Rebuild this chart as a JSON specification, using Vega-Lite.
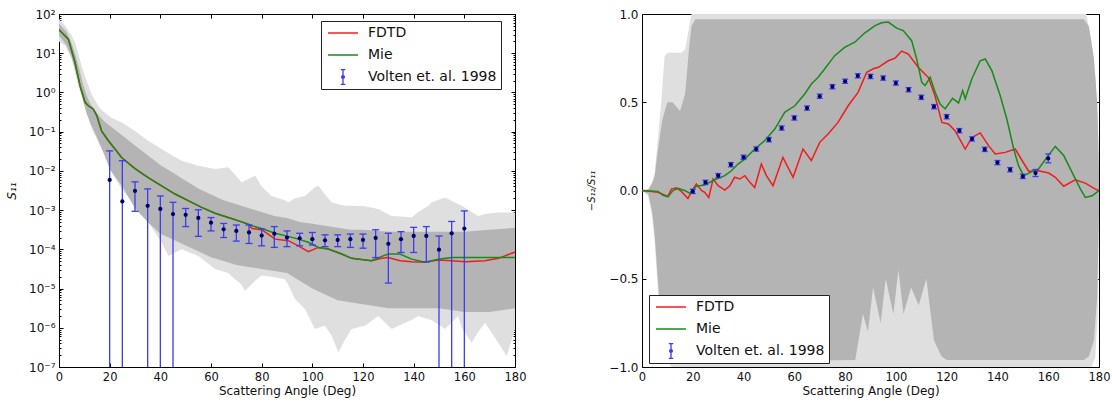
{
"$schema": "https://vega.github.io/schema/vega-lite/v6.json",
"background": "white",
"padding": {"left": 5, "top": 7, "right": 3, "bottom": 5},
"config": {
  "view": {"stroke": "#000", "strokeWidth": 1},
  "font": "DejaVu Sans",
  "axis": {"domain": false, "grid": false, "tickColor": "#000", "tickWidth": 1, "labelFont": "DejaVu Sans", "labelFontSize": 11.5, "labelColor": "#111", "titleFont": "DejaVu Sans", "titleFontSize": 12, "titleFontWeight": "normal", "titleColor": "#111"},
  "legend": {"labelFont": "DejaVu Sans", "labelFontSize": 14, "labelColor": "#111", "strokeColor": "#222", "fillColor": "#fff", "padding": 4, "cornerRadius": 0, "symbolSize": 900, "symbolStrokeWidth": 1.3, "clipHeight": 16, "rowPadding": 6, "labelOffset": 9, "symbolOffset": 2, "labelLimit": 0}
},
"datasets": {
  "l_env": [
    {"deg":0,"hi":74.1,"lo":19.95},{"deg":2.4,"hi":50.1,"lo":15.85},{"deg":5,"hi":28.2,"lo":7.08},{"deg":6.3,"hi":19.05,"lo":3.16},{"deg":7.6,"hi":10,"lo":1.479},{"deg":8.9,"hi":4.79,"lo":0.794},{"deg":10.3,"hi":2.51,"lo":0.38},{"deg":11.6,"hi":1.479,"lo":0.224},{"deg":12.9,"hi":0.891,"lo":0.1175},{"deg":15.5,"hi":0.457,"lo":0.0562},{"deg":16.8,"hi":0.355,"lo":0.0363},{"deg":19.5,"hi":0.257,"lo":0.01585},{"deg":20.8,"hi":0.224,"lo":0.00912},{"deg":24.7,"hi":0.174,"lo":0.00347},{"deg":30,"hi":0.1047,"lo":0.001288},{"deg":35.2,"hi":0.0589,"lo":0.00049},{"deg":40.5,"hi":0.0363,"lo":0.0001514},{"deg":43.2,"hi":0.0282,"lo":6.76e-5},{"deg":48.4,"hi":0.0182,"lo":1e-4},{"deg":55,"hi":0.01349,"lo":6.76e-5},{"deg":61.6,"hi":0.01122,"lo":3.16e-5},{"deg":66.8,"hi":0.0123,"lo":2.51e-5},{"deg":69.5,"hi":0.00794,"lo":1.738e-5},{"deg":72.1,"hi":0.00513,"lo":1.259e-5},{"deg":73.4,"hi":0.00562,"lo":8.71e-6},{"deg":77.4,"hi":0.00759,"lo":1.585e-5},{"deg":80,"hi":0.00398,"lo":2.14e-5},{"deg":83.9,"hi":0.00229,"lo":2e-5},{"deg":89.2,"hi":0.001778,"lo":1.738e-5},{"deg":90.5,"hi":0.001585,"lo":1.259e-5},{"deg":93.2,"hi":0.002,"lo":5.37e-6},{"deg":97.1,"hi":0.00229,"lo":3.02e-6},{"deg":101,"hi":0.0038,"lo":9.33e-7},{"deg":102.4,"hi":0.00417,"lo":1e-6},{"deg":105,"hi":0.00251,"lo":1.122e-6},{"deg":107.6,"hi":0.001585,"lo":6.31e-7},{"deg":110.3,"hi":0.001413,"lo":2.34e-7},{"deg":112.9,"hi":0.001288,"lo":5.01e-7},{"deg":115.5,"hi":0.001288,"lo":9.33e-7},{"deg":120.8,"hi":0.001259,"lo":1.122e-6},{"deg":126,"hi":0.001072,"lo":2e-6},{"deg":131.3,"hi":0.000708,"lo":9.33e-7},{"deg":136.6,"hi":0.000676,"lo":1.349e-6},{"deg":139.2,"hi":0.000646,"lo":1.585e-6},{"deg":141.8,"hi":0.000891,"lo":2e-6},{"deg":145.8,"hi":0.001288,"lo":1.66e-6},{"deg":147.1,"hi":0.001585,"lo":1.585e-6},{"deg":152.4,"hi":0.00209,"lo":9.33e-7},{"deg":157.6,"hi":0.001413,"lo":2e-6},{"deg":159,"hi":0.001288,"lo":1e-6},{"deg":162.9,"hi":0.000891,"lo":4.17e-7},{"deg":165.5,"hi":0.000708,"lo":7.94e-7},{"deg":168.2,"hi":0.000794,"lo":1.349e-6},{"deg":173.4,"hi":0.000871,"lo":4.17e-7},{"deg":176.7,"hi":0.000871,"lo":1.905e-7},{"deg":180,"hi":0.000871,"lo":9.33e-7}
  ],
  "l_core": [
    {"deg":0,"hi":56.2,"lo":28.2},{"deg":3,"hi":35.5,"lo":15.85},{"deg":5,"hi":17.8,"lo":7.94},{"deg":6.5,"hi":8.91,"lo":3.55},{"deg":8,"hi":3.98,"lo":1.585},{"deg":9.5,"hi":1.585,"lo":0.631},{"deg":11,"hi":0.794,"lo":0.282},{"deg":12.5,"hi":0.501,"lo":0.1585},{"deg":14,"hi":0.355,"lo":0.1},{"deg":16,"hi":0.251,"lo":0.0501},{"deg":18,"hi":0.178,"lo":0.0251},{"deg":20,"hi":0.141,"lo":0.01122},{"deg":25,"hi":0.0794,"lo":0.00398},{"deg":30,"hi":0.0447,"lo":0.001122},{"deg":35,"hi":0.0251,"lo":0.000501},{"deg":40,"hi":0.01413,"lo":0.000251},{"deg":45,"hi":0.00891,"lo":0.0001778},{"deg":50,"hi":0.00562,"lo":0.0001259},{"deg":55,"hi":0.00355,"lo":8.91e-5},{"deg":60,"hi":0.00251,"lo":6.31e-5},{"deg":65,"hi":0.001778,"lo":5.01e-5},{"deg":70,"hi":0.001413,"lo":3.98e-5},{"deg":75,"hi":0.001122,"lo":3.55e-5},{"deg":80,"hi":0.000891,"lo":3.16e-5},{"deg":85,"hi":0.000708,"lo":2.82e-5},{"deg":90,"hi":0.000631,"lo":2.51e-5},{"deg":95,"hi":0.000501,"lo":1.585e-5},{"deg":100,"hi":0.000447,"lo":1e-5},{"deg":105,"hi":0.000398,"lo":7.08e-6},{"deg":110,"hi":0.000355,"lo":5.01e-6},{"deg":115,"hi":0.000316,"lo":4.47e-6},{"deg":120,"hi":0.000316,"lo":3.98e-6},{"deg":130,"hi":0.000282,"lo":3.16e-6},{"deg":140,"hi":0.000282,"lo":3.16e-6},{"deg":150,"hi":0.000282,"lo":3.16e-6},{"deg":160,"hi":0.000282,"lo":2.51e-6},{"deg":170,"hi":0.000316,"lo":2.51e-6},{"deg":180,"hi":0.000355,"lo":3.16e-6}
  ],
  "l_lines": [
    {"deg":0,"series":"FDTD","v":39.8},{"deg":3.7,"series":"FDTD","v":22.9},{"deg":6.3,"series":"FDTD","v":5.89},{"deg":8.3,"series":"FDTD","v":1.479},{"deg":10.3,"series":"FDTD","v":0.562},{"deg":11.6,"series":"FDTD","v":0.457},{"deg":13.5,"series":"FDTD","v":0.38},{"deg":14.9,"series":"FDTD","v":0.257},{"deg":16.8,"series":"FDTD","v":0.105},{"deg":19.5,"series":"FDTD","v":0.0589},{"deg":22.1,"series":"FDTD","v":0.0363},{"deg":24.7,"series":"FDTD","v":0.0219},{"deg":30,"series":"FDTD","v":0.01148},{"deg":35.2,"series":"FDTD","v":0.00676},{"deg":40.5,"series":"FDTD","v":0.00417},{"deg":45.8,"series":"FDTD","v":0.00257},{"deg":51,"series":"FDTD","v":0.001738},{"deg":56.3,"series":"FDTD","v":0.001175},{"deg":61.6,"series":"FDTD","v":0.000832},{"deg":66.8,"series":"FDTD","v":0.000646},{"deg":72.1,"series":"FDTD","v":0.000501},{"deg":74.7,"series":"FDTD","v":0.000437},{"deg":76.2,"series":"FDTD","v":0.000339},{"deg":80,"series":"FDTD","v":0.000316},{"deg":85.3,"series":"FDTD","v":0.000182},{"deg":90.5,"series":"FDTD","v":0.000166},{"deg":94.5,"series":"FDTD","v":0.000123},{"deg":98.4,"series":"FDTD","v":8.71e-5},{"deg":102.4,"series":"FDTD","v":0.000112},{"deg":106.3,"series":"FDTD","v":0.000102},{"deg":111.6,"series":"FDTD","v":7.59e-5},{"deg":115.5,"series":"FDTD","v":5.89e-5},{"deg":123.4,"series":"FDTD","v":5.13e-5},{"deg":127.4,"series":"FDTD","v":5.89e-5},{"deg":130,"series":"FDTD","v":6.17e-5},{"deg":134.6,"series":"FDTD","v":5.13e-5},{"deg":139.2,"series":"FDTD","v":4.79e-5},{"deg":144.5,"series":"FDTD","v":4.68e-5},{"deg":149.7,"series":"FDTD","v":5.37e-5},{"deg":155,"series":"FDTD","v":5.13e-5},{"deg":160.3,"series":"FDTD","v":4.79e-5},{"deg":168.2,"series":"FDTD","v":5.13e-5},{"deg":173.5,"series":"FDTD","v":5.89e-5},{"deg":178.7,"series":"FDTD","v":7.94e-5},{"deg":180,"series":"FDTD","v":8.51e-5},
    {"deg":0,"series":"Mie","v":39.8},{"deg":3.7,"series":"Mie","v":22.9},{"deg":6.3,"series":"Mie","v":5.89},{"deg":8.3,"series":"Mie","v":1.479},{"deg":10.3,"series":"Mie","v":0.562},{"deg":11.6,"series":"Mie","v":0.457},{"deg":13.5,"series":"Mie","v":0.38},{"deg":14.9,"series":"Mie","v":0.257},{"deg":16.8,"series":"Mie","v":0.105},{"deg":19.5,"series":"Mie","v":0.0589},{"deg":22.1,"series":"Mie","v":0.0363},{"deg":24.7,"series":"Mie","v":0.0219},{"deg":30,"series":"Mie","v":0.01148},{"deg":35.2,"series":"Mie","v":0.00676},{"deg":40.5,"series":"Mie","v":0.00417},{"deg":45.8,"series":"Mie","v":0.00257},{"deg":51,"series":"Mie","v":0.001738},{"deg":56.3,"series":"Mie","v":0.001175},{"deg":61.6,"series":"Mie","v":0.000832},{"deg":66.8,"series":"Mie","v":0.000646},{"deg":72.1,"series":"Mie","v":0.000501},{"deg":74.7,"series":"Mie","v":0.000437},{"deg":76.2,"series":"Mie","v":0.000398},{"deg":80,"series":"Mie","v":0.000339},{"deg":85.3,"series":"Mie","v":0.000257},{"deg":90.5,"series":"Mie","v":0.000214},{"deg":94.5,"series":"Mie","v":0.000182},{"deg":98.4,"series":"Mie","v":0.000151},{"deg":102.4,"series":"Mie","v":0.000112},{"deg":106.3,"series":"Mie","v":0.000102},{"deg":111.6,"series":"Mie","v":7.59e-5},{"deg":115.5,"series":"Mie","v":5.89e-5},{"deg":123.4,"series":"Mie","v":5.13e-5},{"deg":127.4,"series":"Mie","v":6.61e-5},{"deg":130,"series":"Mie","v":7.59e-5},{"deg":134.6,"series":"Mie","v":7.59e-5},{"deg":139.2,"series":"Mie","v":5.62e-5},{"deg":144.5,"series":"Mie","v":4.68e-5},{"deg":149.7,"series":"Mie","v":5.62e-5},{"deg":155,"series":"Mie","v":6.17e-5},{"deg":160.3,"series":"Mie","v":6.17e-5},{"deg":168.2,"series":"Mie","v":6.17e-5},{"deg":173.5,"series":"Mie","v":6.17e-5},{"deg":180,"series":"Mie","v":6.17e-5}
  ],
  "l_obs": [
    {"deg":20,"v":0.00589,"hi":0.0324,"lo":1e-7},{"deg":25,"v":0.00166,"hi":0.0182,"lo":1e-7},{"deg":30,"v":0.00309,"hi":0.00525,"lo":0.000933},{"deg":35,"v":0.00129,"hi":0.00347,"lo":1e-7},{"deg":40,"v":0.00107,"hi":0.00229,"lo":1e-7},{"deg":45,"v":0.000794,"hi":0.00158,"lo":1e-7},{"deg":50,"v":0.000759,"hi":0.0011,"lo":0.00038},{"deg":55,"v":0.000631,"hi":0.00102,"lo":0.000214},{"deg":60,"v":0.000479,"hi":0.000646,"lo":0.000295},{"deg":65,"v":0.000324,"hi":0.000457,"lo":0.0002},{"deg":70,"v":0.000295,"hi":0.000417,"lo":0.000162},{"deg":75,"v":0.000269,"hi":0.000417,"lo":0.000141},{"deg":80,"v":0.000224,"hi":0.000331,"lo":0.000123},{"deg":85,"v":0.000251,"hi":0.00038,"lo":0.000112},{"deg":90,"v":0.0002,"hi":0.000295,"lo":0.000117},{"deg":95,"v":0.000191,"hi":0.000257,"lo":0.000123},{"deg":100,"v":0.000182,"hi":0.000269,"lo":0.000129},{"deg":105,"v":0.00017,"hi":0.000234,"lo":0.000117},{"deg":110,"v":0.000174,"hi":0.000234,"lo":0.000117},{"deg":115,"v":0.000182,"hi":0.000245,"lo":0.000112},{"deg":120,"v":0.000174,"hi":0.000245,"lo":0.000107},{"deg":125,"v":0.000195,"hi":0.000316,"lo":6.17e-5},{"deg":130,"v":0.000138,"hi":0.000257,"lo":1.38e-5},{"deg":135,"v":0.000182,"hi":0.000282,"lo":8.32e-5},{"deg":140,"v":0.000219,"hi":0.000363,"lo":8.32e-5},{"deg":145,"v":0.000219,"hi":0.00038,"lo":4.79e-5},{"deg":150,"v":9.77e-5,"hi":0.000219,"lo":1e-7},{"deg":155,"v":0.000257,"hi":0.000513,"lo":1e-7},{"deg":160,"v":0.000339,"hi":0.000955,"lo":1e-7}
  ],
  "r_env": [
    {"deg":0,"hi":0,"lo":0},{"deg":2.4,"hi":0.01,"lo":-0.03},{"deg":4,"hi":0.05,"lo":-0.15},{"deg":5,"hi":0.1,"lo":-0.29},{"deg":6.3,"hi":0.3,"lo":-0.58},{"deg":7.6,"hi":0.5,"lo":-0.8},{"deg":8.9,"hi":0.76,"lo":-0.92},{"deg":10.2,"hi":0.78,"lo":-0.97},{"deg":11.6,"hi":0.78,"lo":-1},{"deg":15.5,"hi":0.78,"lo":-1},{"deg":17,"hi":0.8,"lo":-1},{"deg":18.5,"hi":0.92,"lo":-1},{"deg":19.5,"hi":1,"lo":-1},{"deg":175,"hi":1,"lo":-1},{"deg":177,"hi":0.85,"lo":-1},{"deg":178.5,"hi":0.65,"lo":-0.95},{"deg":179.5,"hi":0.4,"lo":-0.7},{"deg":180,"hi":0.2,"lo":-0.2}
  ],
  "r_core": [
    {"deg":0,"hi":0,"lo":0},{"deg":2.5,"hi":0.005,"lo":-0.02},{"deg":4,"hi":0.04,"lo":-0.12},{"deg":5,"hi":0.08,"lo":-0.25},{"deg":6,"hi":0.2,"lo":-0.45},{"deg":7,"hi":0.3,"lo":-0.65},{"deg":8,"hi":0.4,"lo":-0.8},{"deg":9,"hi":0.45,"lo":-0.92},{"deg":10,"hi":0.5,"lo":-0.97},{"deg":12,"hi":0.5,"lo":-0.97},{"deg":15,"hi":0.45,"lo":-0.97},{"deg":17,"hi":0.55,"lo":-0.97},{"deg":18.5,"hi":0.8,"lo":-0.97},{"deg":19.5,"hi":0.93,"lo":-0.97},{"deg":21,"hi":0.97,"lo":-0.97},{"deg":84,"hi":0.97,"lo":-0.96},{"deg":87,"hi":0.97,"lo":-0.7},{"deg":89,"hi":0.97,"lo":-0.8},{"deg":91,"hi":0.97,"lo":-0.55},{"deg":94,"hi":0.97,"lo":-0.75},{"deg":96,"hi":0.97,"lo":-0.5},{"deg":99,"hi":0.97,"lo":-0.7},{"deg":101,"hi":0.97,"lo":-0.45},{"deg":103,"hi":0.97,"lo":-0.7},{"deg":106,"hi":0.97,"lo":-0.55},{"deg":109,"hi":0.97,"lo":-0.65},{"deg":112,"hi":0.97,"lo":-0.5},{"deg":115,"hi":0.97,"lo":-0.85},{"deg":118,"hi":0.97,"lo":-0.94},{"deg":120,"hi":0.97,"lo":-0.96},{"deg":174,"hi":0.97,"lo":-0.96},{"deg":176,"hi":0.93,"lo":-0.94},{"deg":178,"hi":0.75,"lo":-0.85},{"deg":179.3,"hi":0.5,"lo":-0.6},{"deg":180,"hi":0.1,"lo":-0.1}
  ],
  "r_lines": [
    {"deg":0,"series":"FDTD","v":0},{"deg":0.4,"series":"FDTD","v":0},{"deg":6.3,"series":"FDTD","v":-0.01},{"deg":10.2,"series":"FDTD","v":-0.033},{"deg":11.6,"series":"FDTD","v":0.008},{"deg":13.5,"series":"FDTD","v":0.015},{"deg":15.5,"series":"FDTD","v":-0.005},{"deg":18.1,"series":"FDTD","v":-0.045},{"deg":20.1,"series":"FDTD","v":0.008},{"deg":21.4,"series":"FDTD","v":0.037},{"deg":23.4,"series":"FDTD","v":0},{"deg":24.7,"series":"FDTD","v":-0.01},{"deg":26.3,"series":"FDTD","v":-0.04},{"deg":28,"series":"FDTD","v":0.065},{"deg":30,"series":"FDTD","v":0.027},{"deg":32.6,"series":"FDTD","v":0.002},{"deg":34.6,"series":"FDTD","v":0.027},{"deg":36.5,"series":"FDTD","v":0.075},{"deg":38.5,"series":"FDTD","v":0.065},{"deg":40.5,"series":"FDTD","v":0.084},{"deg":42.5,"series":"FDTD","v":0.046},{"deg":44.4,"series":"FDTD","v":0.017},{"deg":47,"series":"FDTD","v":0.15},{"deg":49,"series":"FDTD","v":0.084},{"deg":51.6,"series":"FDTD","v":0.027},{"deg":55.5,"series":"FDTD","v":0.188},{"deg":59.5,"series":"FDTD","v":0.075},{"deg":63.4,"series":"FDTD","v":0.235},{"deg":66.7,"series":"FDTD","v":0.17},{"deg":70,"series":"FDTD","v":0.273},{"deg":73.3,"series":"FDTD","v":0.32},{"deg":77.2,"series":"FDTD","v":0.386},{"deg":81.2,"series":"FDTD","v":0.48},{"deg":85.1,"series":"FDTD","v":0.556},{"deg":88.5,"series":"FDTD","v":0.67},{"deg":91.1,"series":"FDTD","v":0.69},{"deg":93.1,"series":"FDTD","v":0.698},{"deg":97,"series":"FDTD","v":0.735},{"deg":99.7,"series":"FDTD","v":0.75},{"deg":102.3,"series":"FDTD","v":0.79},{"deg":104.9,"series":"FDTD","v":0.773},{"deg":108.8,"series":"FDTD","v":0.698},{"deg":112.8,"series":"FDTD","v":0.64},{"deg":115.4,"series":"FDTD","v":0.537},{"deg":118.1,"series":"FDTD","v":0.386},{"deg":120.7,"series":"FDTD","v":0.377},{"deg":123.3,"series":"FDTD","v":0.339},{"deg":127.3,"series":"FDTD","v":0.235},{"deg":129.9,"series":"FDTD","v":0.3},{"deg":133.2,"series":"FDTD","v":0.326},{"deg":136.5,"series":"FDTD","v":0.254},{"deg":139.1,"series":"FDTD","v":0.207},{"deg":143.1,"series":"FDTD","v":0.216},{"deg":147,"series":"FDTD","v":0.235},{"deg":149.7,"series":"FDTD","v":0.17},{"deg":152.3,"series":"FDTD","v":0.109},{"deg":156.2,"series":"FDTD","v":0.112},{"deg":160.2,"series":"FDTD","v":0.099},{"deg":162.8,"series":"FDTD","v":0.075},{"deg":166.1,"series":"FDTD","v":0.024},{"deg":170.7,"series":"FDTD","v":0.061},{"deg":174.6,"series":"FDTD","v":0.042},{"deg":178.6,"series":"FDTD","v":0.008},{"deg":180,"series":"FDTD","v":0},
    {"deg":0,"series":"Mie","v":0},{"deg":6.3,"series":"Mie","v":-0.005},{"deg":8.3,"series":"Mie","v":-0.027},{"deg":10.2,"series":"Mie","v":-0.036},{"deg":12.2,"series":"Mie","v":0},{"deg":14.2,"series":"Mie","v":0.013},{"deg":16.8,"series":"Mie","v":0},{"deg":18.8,"series":"Mie","v":-0.015},{"deg":21.4,"series":"Mie","v":0.024},{"deg":24.7,"series":"Mie","v":0.031},{"deg":28.6,"series":"Mie","v":0.061},{"deg":32.6,"series":"Mie","v":0.084},{"deg":35.2,"series":"Mie","v":0.112},{"deg":37.8,"series":"Mie","v":0.15},{"deg":40.5,"series":"Mie","v":0.178},{"deg":44.4,"series":"Mie","v":0.235},{"deg":48.3,"series":"Mie","v":0.282},{"deg":52.3,"series":"Mie","v":0.348},{"deg":56.2,"series":"Mie","v":0.443},{"deg":60.2,"series":"Mie","v":0.48},{"deg":64.1,"series":"Mie","v":0.547},{"deg":66.7,"series":"Mie","v":0.603},{"deg":69.3,"series":"Mie","v":0.64},{"deg":72,"series":"Mie","v":0.69},{"deg":75.9,"series":"Mie","v":0.764},{"deg":79.8,"series":"Mie","v":0.811},{"deg":83.8,"series":"Mie","v":0.84},{"deg":87.7,"series":"Mie","v":0.892},{"deg":91.8,"series":"Mie","v":0.934},{"deg":94.4,"series":"Mie","v":0.95},{"deg":97,"series":"Mie","v":0.954},{"deg":100.3,"series":"Mie","v":0.92},{"deg":102.9,"series":"Mie","v":0.906},{"deg":106.2,"series":"Mie","v":0.849},{"deg":108.2,"series":"Mie","v":0.745},{"deg":110.2,"series":"Mie","v":0.613},{"deg":111.5,"series":"Mie","v":0.594},{"deg":113.5,"series":"Mie","v":0.641},{"deg":115.5,"series":"Mie","v":0.556},{"deg":117.4,"series":"Mie","v":0.49},{"deg":119.4,"series":"Mie","v":0.462},{"deg":122.3,"series":"Mie","v":0.522},{"deg":124.7,"series":"Mie","v":0.496},{"deg":126.3,"series":"Mie","v":0.566},{"deg":127.3,"series":"Mie","v":0.52},{"deg":129.9,"series":"Mie","v":0.632},{"deg":133.2,"series":"Mie","v":0.735},{"deg":135.2,"series":"Mie","v":0.745},{"deg":137.8,"series":"Mie","v":0.679},{"deg":141.1,"series":"Mie","v":0.537},{"deg":143.7,"series":"Mie","v":0.405},{"deg":146.4,"series":"Mie","v":0.235},{"deg":148.3,"series":"Mie","v":0.141},{"deg":150.3,"series":"Mie","v":0.084},{"deg":153.6,"series":"Mie","v":0.107},{"deg":156.2,"series":"Mie","v":0.122},{"deg":159.5,"series":"Mie","v":0.188},{"deg":162.8,"series":"Mie","v":0.25},{"deg":166.1,"series":"Mie","v":0.198},{"deg":169.4,"series":"Mie","v":0.103},{"deg":172.7,"series":"Mie","v":0.008},{"deg":174.6,"series":"Mie","v":-0.039},{"deg":177.3,"series":"Mie","v":-0.03},{"deg":180,"series":"Mie","v":0}
  ],
  "r_obs": [
    {"deg":20,"v":-0.005,"hi":0.007,"lo":-0.017},{"deg":25,"v":0.046,"hi":0.058,"lo":0.034},{"deg":30,"v":0.084,"hi":0.096,"lo":0.072},{"deg":35,"v":0.146,"hi":0.158,"lo":0.134},{"deg":40,"v":0.188,"hi":0.2,"lo":0.176},{"deg":45,"v":0.235,"hi":0.247,"lo":0.223},{"deg":50,"v":0.288,"hi":0.3,"lo":0.276},{"deg":55,"v":0.354,"hi":0.366,"lo":0.342},{"deg":60,"v":0.411,"hi":0.423,"lo":0.399},{"deg":65,"v":0.467,"hi":0.479,"lo":0.455},{"deg":70,"v":0.534,"hi":0.546,"lo":0.522},{"deg":75,"v":0.588,"hi":0.6,"lo":0.576},{"deg":80,"v":0.619,"hi":0.631,"lo":0.607},{"deg":85,"v":0.65,"hi":0.662,"lo":0.638},{"deg":90,"v":0.646,"hi":0.658,"lo":0.634},{"deg":95,"v":0.637,"hi":0.649,"lo":0.625},{"deg":100,"v":0.609,"hi":0.621,"lo":0.597},{"deg":105,"v":0.571,"hi":0.583,"lo":0.559},{"deg":110,"v":0.528,"hi":0.54,"lo":0.516},{"deg":115,"v":0.475,"hi":0.487,"lo":0.463},{"deg":120,"v":0.418,"hi":0.43,"lo":0.406},{"deg":125,"v":0.339,"hi":0.351,"lo":0.327},{"deg":130,"v":0.292,"hi":0.304,"lo":0.28},{"deg":135,"v":0.233,"hi":0.245,"lo":0.221},{"deg":140,"v":0.158,"hi":0.17,"lo":0.146},{"deg":145,"v":0.118,"hi":0.13,"lo":0.106},{"deg":150,"v":0.08,"hi":0.092,"lo":0.068},{"deg":155,"v":0.099,"hi":0.119,"lo":0.079},{"deg":160,"v":0.182,"hi":0.207,"lo":0.157}
  ],
  "dummy": [{"deg": 0, "v": 1}]
},
"spacing": 127,
"bounds": "flush",
"resolve": {"scale": {"x": "independent", "y": "independent", "color": "independent"}, "legend": {"color": "independent"}},
"hconcat": [
  {
    "width": 456, "height": 353,
    "resolve": {"axis": {"x": "independent", "y": "independent"}},
    "layer": [
      {"data": {"name": "l_env"}, "mark": {"type": "area", "color": "#dfdfdf", "clip": true},
       "encoding": {
         "x": {"field": "deg", "type": "quantitative", "scale": {"domain": [0, 180], "nice": false, "zero": false},
               "axis": {"values": [0,20,40,60,80,100,120,140,160,180], "tickSize": -4, "labelPadding": 8, "labelFlush": false, "labelOverlap": false, "title": "Scattering Angle (Deg)", "titlePadding": 3}},
         "y": {"field": "hi", "type": "quantitative", "scale": {"type": "log", "domain": [1e-7, 100], "nice": false},
               "axis": {"values": [1e-7,1e-6,1e-5,1e-4,1e-3,0.01,0.1,1,10,100], "tickSize": -4, "labelPadding": 8, "labelOverlap": false, "labelFontSize": 12,
                        "labelExpr": "['10⁻⁷','10⁻⁶','10⁻⁵','10⁻⁴','10⁻³','10⁻²','10⁻¹','10⁰','10¹','10²'][round(log(datum.value)/LN10)+7]",
                        "title": "S₁₁", "titleFontStyle": "italic", "titlePadding": 10}},
         "y2": {"field": "lo"}}},
      {"data": {"name": "l_core"}, "mark": {"type": "area", "color": "#b4b4b4", "clip": true},
       "encoding": {
         "x": {"field": "deg", "type": "quantitative", "scale": {"domain": [0, 180], "nice": false, "zero": false}, "axis": null},
         "y": {"field": "hi", "type": "quantitative", "scale": {"type": "log", "domain": [1e-7, 100], "nice": false}, "axis": null},
         "y2": {"field": "lo"}}},
      {"data": {"name": "l_lines"}, "mark": {"type": "line", "strokeWidth": 1.5, "clip": true},
       "encoding": {
         "x": {"field": "deg", "type": "quantitative", "scale": {"domain": [0, 180], "nice": false, "zero": false}, "axis": null},
         "y": {"field": "v", "type": "quantitative", "scale": {"type": "log", "domain": [1e-7, 100], "nice": false}, "axis": null},
         "color": {"field": "series", "type": "nominal",
                   "scale": {"domain": ["FDTD", "Mie", "Volten et. al. 1998"], "range": ["#f01c1c", "#1a8a1a", "#3c3cf0"]},
                   "legend": {"title": null, "orient": "none", "legendX": 262, "legendY": 7, "direction": "vertical",
                              "encode": {"symbols": {"update": {
                                 "shape": {"signal": "datum.value === 'Volten et. al. 1998' ? 'M0,-0.5L0,0.5M-0.15,-0.5L0.15,-0.5M-0.15,0.5L0.15,0.5M0.09,0A0.09,0.09 0 1,1 -0.09,0A0.09,0.09 0 1,1 0.09,0Z' : 'stroke'"},
                                 "fill": {"signal": "datum.value === 'Volten et. al. 1998' ? '#000070' : 'transparent'"}}}}}}}},
      {"data": {"name": "l_obs"}, "mark": {"type": "rule", "color": "#3c3cf0", "strokeWidth": 1.3, "clip": true},
       "encoding": {
         "x": {"field": "deg", "type": "quantitative", "scale": {"domain": [0, 180], "nice": false, "zero": false}, "axis": null},
         "y": {"field": "lo", "type": "quantitative", "scale": {"type": "log", "domain": [1e-7, 100], "nice": false}, "axis": null},
         "y2": {"field": "hi"}}},
      {"data": {"name": "l_obs"}, "transform": [{"filter": "datum.lo > 1.5e-7"}],
       "mark": {"type": "point", "shape": "M-1,0L1,0", "size": 49, "filled": false, "stroke": "#3c3cf0", "strokeWidth": 1.3, "opacity": 1},
       "encoding": {
         "x": {"field": "deg", "type": "quantitative", "scale": {"domain": [0, 180], "nice": false, "zero": false}, "axis": null},
         "y": {"field": "lo", "type": "quantitative", "scale": {"type": "log", "domain": [1e-7, 100], "nice": false}, "axis": null}}},
      {"data": {"name": "l_obs"},
       "mark": {"type": "point", "shape": "M-1,0L1,0", "size": 49, "filled": false, "stroke": "#3c3cf0", "strokeWidth": 1.3, "opacity": 1},
       "encoding": {
         "x": {"field": "deg", "type": "quantitative", "scale": {"domain": [0, 180], "nice": false, "zero": false}, "axis": null},
         "y": {"field": "hi", "type": "quantitative", "scale": {"type": "log", "domain": [1e-7, 100], "nice": false}, "axis": null}}},
      {"data": {"name": "l_obs"},
       "mark": {"type": "point", "shape": "circle", "size": 18, "filled": true, "color": "#000070", "opacity": 1},
       "encoding": {
         "x": {"field": "deg", "type": "quantitative", "scale": {"domain": [0, 180], "nice": false, "zero": false}, "axis": null},
         "y": {"field": "v", "type": "quantitative", "scale": {"type": "log", "domain": [1e-7, 100], "nice": false}, "axis": null}}},
      {"data": {"name": "dummy"}, "mark": {"type": "point", "opacity": 0},
       "encoding": {
         "x": {"field": "deg", "type": "quantitative", "scale": {"domain": [0, 180], "nice": false, "zero": false},
               "axis": {"orient": "top", "values": [0,20,40,60,80,100,120,140,160,180], "labels": false, "tickSize": -4, "title": null}},
         "y": {"field": "v", "type": "quantitative", "scale": {"type": "log", "domain": [1e-7, 100], "nice": false},
               "axis": {"orient": "right", "values": [1e-7,1e-6,1e-5,1e-4,1e-3,0.01,0.1,1,10,100], "labels": false, "tickSize": -4, "title": null}}}},
      {"data": {"name": "dummy"}, "mark": {"type": "point", "opacity": 0},
       "encoding": {
         "x": {"field": "deg", "type": "quantitative", "scale": {"domain": [0, 180], "nice": false, "zero": false}, "axis": null},
         "y": {"field": "v", "type": "quantitative", "scale": {"type": "log", "domain": [1e-7, 100], "nice": false},
               "axis": {"orient": "left", "values": [2e-7,3e-7,4e-7,5e-7,6e-7,7e-7,8e-7,9e-7,2e-6,3e-6,4e-6,5e-6,6e-6,7e-6,8e-6,9e-6,2e-5,3e-5,4e-5,5e-5,6e-5,7e-5,8e-5,9e-5,2e-4,3e-4,4e-4,5e-4,6e-4,7e-4,8e-4,9e-4,2e-3,3e-3,4e-3,5e-3,6e-3,7e-3,8e-3,9e-3,0.02,0.03,0.04,0.05,0.06,0.07,0.08,0.09,0.2,0.3,0.4,0.5,0.6,0.7,0.8,0.9,2,3,4,5,6,7,8,9,20,30,40,50,60,70,80,90], "labels": false, "tickSize": -2, "title": null}}}},
      {"data": {"name": "dummy"}, "mark": {"type": "point", "opacity": 0},
       "encoding": {
         "x": {"field": "deg", "type": "quantitative", "scale": {"domain": [0, 180], "nice": false, "zero": false}, "axis": null},
         "y": {"field": "v", "type": "quantitative", "scale": {"type": "log", "domain": [1e-7, 100], "nice": false},
               "axis": {"orient": "right", "values": [2e-7,3e-7,4e-7,5e-7,6e-7,7e-7,8e-7,9e-7,2e-6,3e-6,4e-6,5e-6,6e-6,7e-6,8e-6,9e-6,2e-5,3e-5,4e-5,5e-5,6e-5,7e-5,8e-5,9e-5,2e-4,3e-4,4e-4,5e-4,6e-4,7e-4,8e-4,9e-4,2e-3,3e-3,4e-3,5e-3,6e-3,7e-3,8e-3,9e-3,0.02,0.03,0.04,0.05,0.06,0.07,0.08,0.09,0.2,0.3,0.4,0.5,0.6,0.7,0.8,0.9,2,3,4,5,6,7,8,9,20,30,40,50,60,70,80,90], "labels": false, "tickSize": -2, "title": null}}}}
    ]
  },
  {
    "width": 457, "height": 353,
    "resolve": {"axis": {"x": "independent", "y": "independent"}},
    "layer": [
      {"data": {"name": "r_env"}, "mark": {"type": "area", "color": "#dfdfdf", "clip": true},
       "encoding": {
         "x": {"field": "deg", "type": "quantitative", "scale": {"domain": [0, 180], "nice": false, "zero": false},
               "axis": {"values": [0,20,40,60,80,100,120,140,160,180], "tickSize": -4, "labelPadding": 8, "labelFlush": false, "labelOverlap": false, "title": "Scattering Angle (Deg)", "titlePadding": 3}},
         "y": {"field": "hi", "type": "quantitative", "scale": {"domain": [-1, 1], "nice": false, "zero": false},
               "axis": {"values": [-1,-0.5,0,0.5,1], "format": ".1f", "tickSize": -4, "labelPadding": 8, "labelOverlap": false, "labelFontSize": 12,
                        "title": "−S₁₂/S₁₁", "titleFontSize": 10, "titleFontStyle": "italic", "titlePadding": 12}},
         "y2": {"field": "lo"}}},
      {"data": {"name": "r_core"}, "mark": {"type": "area", "color": "#b4b4b4", "clip": true},
       "encoding": {
         "x": {"field": "deg", "type": "quantitative", "scale": {"domain": [0, 180], "nice": false, "zero": false}, "axis": null},
         "y": {"field": "hi", "type": "quantitative", "scale": {"domain": [-1, 1], "nice": false, "zero": false}, "axis": null},
         "y2": {"field": "lo"}}},
      {"data": {"name": "r_lines"}, "mark": {"type": "line", "strokeWidth": 1.5, "clip": true},
       "encoding": {
         "x": {"field": "deg", "type": "quantitative", "scale": {"domain": [0, 180], "nice": false, "zero": false}, "axis": null},
         "y": {"field": "v", "type": "quantitative", "scale": {"domain": [-1, 1], "nice": false, "zero": false}, "axis": null},
         "color": {"field": "series", "type": "nominal",
                   "scale": {"domain": ["FDTD", "Mie", "Volten et. al. 1998"], "range": ["#f01c1c", "#1a8a1a", "#3c3cf0"]},
                   "legend": {"title": null, "orient": "none", "legendX": 7, "legendY": 281, "direction": "vertical",
                              "encode": {"symbols": {"update": {
                                 "shape": {"signal": "datum.value === 'Volten et. al. 1998' ? 'M0,-0.5L0,0.5M-0.15,-0.5L0.15,-0.5M-0.15,0.5L0.15,0.5M0.09,0A0.09,0.09 0 1,1 -0.09,0A0.09,0.09 0 1,1 0.09,0Z' : 'stroke'"},
                                 "fill": {"signal": "datum.value === 'Volten et. al. 1998' ? '#000070' : 'transparent'"}}}}}}}},
      {"data": {"name": "r_obs"}, "mark": {"type": "rule", "color": "#3c3cf0", "strokeWidth": 1.3, "clip": true},
       "encoding": {
         "x": {"field": "deg", "type": "quantitative", "scale": {"domain": [0, 180], "nice": false, "zero": false}, "axis": null},
         "y": {"field": "lo", "type": "quantitative", "scale": {"domain": [-1, 1], "nice": false, "zero": false}, "axis": null},
         "y2": {"field": "hi"}}},
      {"data": {"name": "r_obs"},
       "mark": {"type": "point", "shape": "M-1,0L1,0", "size": 36, "filled": false, "stroke": "#3c3cf0", "strokeWidth": 1.3, "opacity": 1},
       "encoding": {
         "x": {"field": "deg", "type": "quantitative", "scale": {"domain": [0, 180], "nice": false, "zero": false}, "axis": null},
         "y": {"field": "lo", "type": "quantitative", "scale": {"domain": [-1, 1], "nice": false, "zero": false}, "axis": null}}},
      {"data": {"name": "r_obs"},
       "mark": {"type": "point", "shape": "M-1,0L1,0", "size": 36, "filled": false, "stroke": "#3c3cf0", "strokeWidth": 1.3, "opacity": 1},
       "encoding": {
         "x": {"field": "deg", "type": "quantitative", "scale": {"domain": [0, 180], "nice": false, "zero": false}, "axis": null},
         "y": {"field": "hi", "type": "quantitative", "scale": {"domain": [-1, 1], "nice": false, "zero": false}, "axis": null}}},
      {"data": {"name": "r_obs"},
       "mark": {"type": "point", "shape": "circle", "size": 18, "filled": true, "color": "#000070", "opacity": 1},
       "encoding": {
         "x": {"field": "deg", "type": "quantitative", "scale": {"domain": [0, 180], "nice": false, "zero": false}, "axis": null},
         "y": {"field": "v", "type": "quantitative", "scale": {"domain": [-1, 1], "nice": false, "zero": false}, "axis": null}}},
      {"data": {"name": "dummy"}, "mark": {"type": "point", "opacity": 0},
       "encoding": {
         "x": {"field": "deg", "type": "quantitative", "scale": {"domain": [0, 180], "nice": false, "zero": false},
               "axis": {"orient": "top", "values": [0,20,40,60,80,100,120,140,160,180], "labels": false, "tickSize": -4, "title": null}},
         "y": {"field": "v", "type": "quantitative", "scale": {"domain": [-1, 1], "nice": false, "zero": false},
               "axis": {"orient": "right", "values": [-1,-0.5,0,0.5,1], "labels": false, "tickSize": -4, "title": null}}}}
    ]
  }
]
}
